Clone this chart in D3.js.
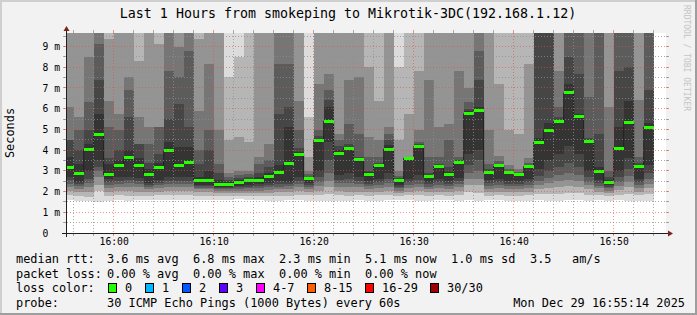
<!DOCTYPE html>
<html>
<head>
<meta charset="utf-8">
<script src="https://cdn.jsdelivr.net/npm/d3@7"></script>
<style>
  body { margin: 0; background: #f2f2f2; }
  svg { display: block; font-family: "DejaVu Sans Mono", monospace; }
  text { white-space: pre; }
</style>
</head>
<body>
<div id="chart"></div>
<script>
// median rtt per one-minute step (ms), first step ends 15:56
var medians = [3.15,2.86,4.04,4.73,2.80,3.28,3.64,3.28,2.84,3.14,
               3.99,3.24,3.38,2.51,2.55,2.32,2.32,2.45,2.55,2.55,
               2.74,2.93,3.35,3.80,2.63,4.47,5.40,3.86,4.10,3.56,
               2.84,3.28,4.05,2.53,3.61,4.17,2.72,3.21,2.84,3.41,
               5.75,5.91,2.93,3.27,2.93,2.80,3.21,4.39,4.95,5.37,
               6.76,5.61,4.41,2.97,2.45,4.10,5.35,3.22,5.11];

// smoke: upper and lower edge of each nested ping band (outer -> inner)
var hi1 = [12,12,12,12,12,12,12,12,12,12, 12,12,12,12,12,12,12,12,12,12,
           12,12,12,12,12,12,12,12,12,12, 12,12,12,12,12,12,12,12,12,12,
           12,12,12,12,12,12,12,12,12,12, 12,12,12,12,12,12,12,12,12];
var hi2 = [12,12,12,12,12,12,12,12,12,12, 12,12,12,12,12,12,7.52,8.48,12,12,
           12,12,12,12,5.59,12,12,12,12,12, 12,12,12,8.0,12,12,12,12,12,12,
           12,12,12,12,12,12,12,12,12,12, 12,12,12,12,12,12,12,12,12];
var hi3 = [12,12,12,12,9.36,12,12,8.32,12,9.12, 12,12,12,9.36,12,12,4.47,4.63,4.4,12,
           12,12,12,12,3.67,12,12,12,12,12, 8.0,6.39,12,4.47,5.75,7.84,12,12,12,12,
           12,12,12,7.2,4.95,4.79,8.16,12,12,12, 12,12,12,12,12,12,12,12,12];
var hi4 = [6.07,5.59,8.48,12,6.39,5.75,7.52,5.59,5.11,5.11, 11,8.96,12,5.9,8.16,4.95,2.9,3.0,3.0,3.67,
           4.31,12,12,6.39,3.0,7.2,7.68,4.79,7.36,7.52, 4.63,4.47,5.11,3.0,3.67,4.95,7.36,5.11,5.27,7.84,
           7.0,12,4.95,3.7,3.3,3.1,3.6,12,12,7.84, 12,12,12,12,6.07,12,12,6.4,12];
var hi5 = [4.47,4.95,6.31,9.12,5.11,4.95,6.88,4.31,4.31,5.11, 7.84,7.52,8.8,3.99,4.95,3.35,2.7,2.8,2.85,3.35,
           3.5,8.16,8.16,4.95,2.85,4.95,6.88,4.5,5.27,4.79, 3.67,3.67,4.79,2.75,3.65,4.4,3.67,3.67,4.47,3.67,
           6.3,8.8,3.35,3.45,3.1,2.95,3.4,12,12,6.1, 12,12,6.55,12,3.0,12,12,3.67,12];
var hi6 = [4.47,3.99,4.95,7.36,3.6,3.99,5.59,4.31,3.4,3.83, 5.5,6.23,5.11,3.35,3.99,2.9,2.55,2.65,2.7,2.9,
           3.2,5.75,6.07,4.1,2.72,4.7,6.4,4.2,4.3,3.67, 3.0,3.4,4.47,2.65,3.63,4.3,2.9,3.35,3.2,3.5,
           6.0,7.36,3.1,3.35,3.0,2.87,3.3,12,12,5.6, 8.5,7.68,4.6,4.79,2.7,7.84,8.0,3.4,6.88];
var hi7 = [3.67,3.35,4.3,5.75,3.35,3.5,3.99,3.6,3.1,3.4, 4.4,4.15,4.15,2.7,3.0,2.55,2.45,2.55,2.62,2.7,
           2.9,3.3,5.11,3.9,2.68,4.5,6.07,4.0,4.15,3.6, 2.95,3.35,4.25,2.58,3.62,4.22,2.8,3.28,2.95,3.45,
           5.9,6.1,3.0,3.3,2.96,2.83,3.25,4.6,5.3,5.45, 7.2,5.75,4.5,3.2,2.55,5.11,6.39,3.3,5.3];
var lo7 = [2.71,2.45,3.0,3.5,2.6,2.71,2.71,2.64,2.4,2.55, 2.71,2.71,2.71,2.31,2.31,2.23,2.2,2.25,2.3,2.35,
           2.4,2.5,2.45,2.71,2.4,3.0,4.4,2.8,2.9,2.7, 2.5,2.6,2.9,2.3,2.6,2.8,2.45,2.6,2.5,2.65,
           3.8,4.0,2.55,2.6,2.5,2.5,2.6,3.1,3.5,3.8, 4.2,3.8,3.0,2.55,2.3,3.0,3.6,2.6,3.3];
var lo6 = [2.55,2.35,2.6,3.2,2.45,2.5,2.55,2.5,2.3,2.4, 2.5,2.5,2.5,2.25,2.25,2.18,2.15,2.2,2.22,2.25,
           2.3,2.35,2.35,2.5,2.3,2.7,3.5,2.55,2.6,2.5, 2.35,2.45,2.6,2.22,2.45,2.55,2.35,2.45,2.38,2.5,
           3.3,3.5,2.4,2.45,2.38,2.38,2.45,2.75,3.0,3.2, 3.4,3.2,2.7,2.42,2.22,2.7,3.1,2.45,2.9];
var lo5 = [2.35,2.25,2.4,3.0,2.3,2.35,2.4,2.35,2.2,2.3, 2.35,2.35,2.35,2.18,2.18,2.12,2.1,2.12,2.15,2.15,
           2.2,2.22,2.25,2.35,2.2,2.45,2.9,2.4,2.4,2.35, 2.25,2.3,2.4,2.15,2.3,2.35,2.22,2.3,2.25,2.35,
           2.9,3.0,2.25,2.3,2.25,2.25,2.3,2.5,2.65,2.8, 2.9,2.8,2.45,2.28,2.15,2.45,2.75,2.3,2.6];
var lo4 = [2.2,2.12,2.22,2.7,2.15,2.2,2.2,2.2,2.1,2.15, 2.2,2.2,2.2,2.1,2.1,2.05,2.02,2.05,2.05,2.05,
           2.08,2.1,2.12,2.2,2.1,2.25,2.5,2.2,2.2,2.2, 2.12,2.15,2.2,2.05,2.15,2.2,2.1,2.15,2.12,2.2,
           2.6,2.6,2.12,2.15,2.12,2.12,2.15,2.3,2.4,2.5, 2.55,2.5,2.3,2.15,2.05,2.28,2.45,2.15,2.35];
var lo3 = [2.05,1.98,2.0,2.3,2.0,2.05,2.05,2.0,1.98,2.0, 2.05,2.05,2.05,1.98,1.98,1.95,1.93,1.95,1.95,1.95,
           1.95,1.97,2.0,2.05,1.98,2.05,2.2,2.02,2.0,2.0, 1.98,2.0,2.02,1.95,2.0,2.02,1.97,2.0,1.98,2.02,
           2.3,2.3,1.98,2.0,1.98,1.98,2.0,2.1,2.15,2.2, 2.25,2.2,2.1,2.0,1.95,2.08,2.2,2.0,2.15];
var lo2 = [1.83,1.8,1.75,2.05,1.8,1.85,1.8,1.8,1.8,1.82, 1.85,1.85,1.85,1.8,1.8,1.78,1.78,1.8,1.78,1.78,
           1.78,1.8,1.8,1.85,1.82,1.85,1.9,1.82,1.8,1.82, 1.8,1.82,1.82,1.8,1.82,1.82,1.8,1.82,1.8,1.82,
           2.0,1.95,1.8,1.82,1.8,1.8,1.82,1.88,1.9,1.9, 1.95,1.92,1.85,1.82,1.8,1.85,1.9,1.82,1.9];
var lo1 = [1.58,1.55,1.55,1.5,1.53,1.58,1.55,1.57,1.58,1.6, 1.6,1.6,1.6,1.58,1.6,1.58,1.6,1.62,1.6,1.6,
           1.56,1.56,1.6,1.58,1.55,1.55,1.55,1.55,1.52,1.57, 1.55,1.55,1.57,1.58,1.58,1.56,1.56,1.58,1.57,1.55,
           1.6,1.55,1.57,1.58,1.55,1.55,1.56,1.57,1.55,1.56, 1.58,1.57,1.55,1.57,1.55,1.57,1.55,1.55,1.56];

var yTicks = [0, 1, 2, 3, 4, 5, 6, 7, 8, 9];
var rttStats = ["3.6 ms avg", "6.8 ms max", "2.3 ms min", "5.1 ms now", "1.0 ms sd", "3.5", "am/s"];
var lossStats = ["0.00 % avg", "0.00 % max", "0.00 % min", "0.00 % now"];
var lossLabels = ["0", "1", "2", "3", "4-7", "8-15", "16-29", "30/30"];
var probeText = "30 ICMP Echo Pings (1000 Bytes) every 60s";
var stampText = "Mon Dec 29 16:55:14 2025";
var titleText = "Last 1 Hours from smokeping to Mikrotik-3DC(192.168.1.12)";

var lossColors = ["#26ff00", "#00b8ff", "#0059ff", "#5e00ff", "#ff00ff", "#ff5e00", "#ff0000", "#a10000"];
var bandGreys = [220, 182, 148, 118, 92, 70, 52];

var W = 697, H = 315;
var x0 = 66, x1 = 666, yTop = 33, yBot = 233;

var graphEnd = new Date(2025, 11, 29, 16, 55, 14);
var graphStart = d3.timeHour.offset(graphEnd, -1);
var firstStep = new Date(2025, 11, 29, 15, 56, 0);

var steps = medians.map(function(m, i) {
  var end = d3.timeMinute.offset(firstStep, i);
  var start = d3.timeMinute.offset(end, -1);
  if (start < graphStart) start = graphStart;
  return {start: start, end: end, median: m};
});

var x = d3.scaleTime().domain([graphStart, graphEnd]).range([x0, x1]);
var y = d3.scaleLinear().domain([0, 9.65]).range([yBot, yTop]);

var svg = d3.select("#chart").append("svg")
    .attr("width", W)
    .attr("height", H);

// background and 3d frame
svg.append("rect").attr("width", W).attr("height", H).attr("fill", "#f2f2f2");
svg.append("path").attr("d", "M0,1H696M1,0V314").attr("stroke", "#cfcfcf").attr("stroke-width", 2);
svg.append("path").attr("d", "M0,314H697M696,0V315").attr("stroke", "#9e9e9e").attr("stroke-width", 2);

svg.append("defs").append("clipPath").attr("id", "canvasClip")
  .append("rect").attr("x", x0).attr("y", yTop).attr("width", x1 - x0).attr("height", yBot - yTop);

svg.append("rect").attr("x", x0).attr("y", yTop).attr("width", x1 - x0).attr("height", yBot - yTop)
  .attr("fill", "#fff");

// smoke
var his = [hi1, hi2, hi3, hi4, hi5, hi6, hi7];
var los = [lo1, lo2, lo3, lo4, lo5, lo6, lo7];
var smoke = svg.append("g").attr("clip-path", "url(#canvasClip)").attr("shape-rendering", "crispEdges");
his.forEach(function(hi, k) {
  var lo = los[k];
  var g = bandGreys[k];
  smoke.append("g").selectAll("rect")
    .data(steps)
    .enter().append("rect")
      .attr("x", function(d) { return x(d.start); })
      .attr("width", function(d) { return x(d.end) - x(d.start); })
      .attr("y", function(d, i) { return y(hi[i]); })
      .attr("height", function(d, i) { return y(lo[i]) - y(hi[i]); })
      .attr("fill", d3.rgb(g, g, g));
});

// median: dark step line, then loss-coloured bar
var pts = [];
steps.forEach(function(d) {
  pts.push([x(d.start), y(d.median)]);
  pts.push([x(d.end), y(d.median)]);
});
svg.append("path")
  .attr("d", d3.line()(pts))
  .attr("fill", "none")
  .attr("stroke", "#202020")
  .attr("stroke-width", 1);

svg.append("g").attr("shape-rendering", "crispEdges").selectAll("rect")
  .data(steps)
  .enter().append("rect")
    .attr("x", function(d) { return x(d.start); })
    .attr("width", function(d) { return x(d.end) - x(d.start); })
    .attr("y", function(d) { return y(d.median) - 1.5; })
    .attr("height", 3)
    .attr("fill", lossColors[0]);

// grid (drawn over the graph, like rrdtool)
var gridCol = "rgba(143,143,143,0.75)", mgridCol = "rgba(222,79,79,0.6)";
var grid = svg.append("g").attr("shape-rendering", "crispEdges");

function px(v) { return Math.floor(v) + 0.5; }

function vLine(t, col) {
  var xx = px(x(t));
  grid.append("line").attr("x1", xx).attr("x2", xx).attr("y1", yBot + 2).attr("y2", yTop - 2)
    .attr("stroke", col).attr("stroke-dasharray", "1,2");
  grid.append("line").attr("x1", xx).attr("x2", xx).attr("y1", yBot).attr("y2", yBot + 3).attr("stroke", col);
  grid.append("line").attr("x1", xx).attr("x2", xx).attr("y1", yTop - 3).attr("y2", yTop).attr("stroke", col);
}
function hLine(v, col) {
  var yy = px(y(v));
  grid.append("line").attr("x1", x0 - 2).attr("x2", x1 + 2).attr("y1", yy).attr("y2", yy)
    .attr("stroke", col).attr("stroke-dasharray", "1,2");
  grid.append("line").attr("x1", x0 - 3).attr("x2", x0).attr("y1", yy).attr("y2", yy).attr("stroke", col);
  grid.append("line").attr("x1", x1).attr("x2", x1 + 3).attr("y1", yy).attr("y2", yy).attr("stroke", col);
}

d3.timeMinute.every(2).range(graphStart, graphEnd).forEach(function(t) {
  if (t.getMinutes() % 10 !== 0) vLine(t, gridCol);
});
d3.range(0.5, 9.65, 1).forEach(function(v) { hLine(v, gridCol); });
d3.timeMinute.every(10).range(graphStart, graphEnd).forEach(function(t) { vLine(t, mgridCol); });
yTicks.slice(1).forEach(function(v) { hLine(v, mgridCol); });

// axis lines and arrows
var axisCol = "#1f1f1f", arrowCol = "#801f1f";
svg.append("line").attr("x1", x0 - 4).attr("x2", x1 + 4).attr("y1", yBot + 0.5).attr("y2", yBot + 0.5)
  .attr("stroke", axisCol).attr("shape-rendering", "crispEdges");
svg.append("line").attr("x1", x0 + 0.5).attr("x2", x0 + 0.5).attr("y1", yBot + 4).attr("y2", yTop - 4)
  .attr("stroke", axisCol).attr("shape-rendering", "crispEdges");
svg.append("path").attr("d", "M" + (x1 + 2) + "," + (yBot - 2.5) + "L" + (x1 + 2) + "," + (yBot + 3.5) + "L" + (x1 + 7) + "," + (yBot + 0.5) + "Z")
  .attr("fill", arrowCol);
svg.append("path").attr("d", "M" + (x0 - 2.5) + "," + (yTop - 2) + "L" + (x0 + 3.5) + "," + (yTop - 2) + "L" + (x0 + 0.5) + "," + (yTop - 7) + "Z")
  .attr("fill", arrowCol);

// axis labels
var xAxis = d3.axisBottom(x)
  .ticks(d3.timeMinute.every(10))
  .tickFormat(d3.timeFormat("%H:%M"))
  .tickSize(0)
  .tickPadding(5);
var gx = svg.append("g").attr("transform", "translate(0," + yBot + ")").call(xAxis);
gx.select(".domain").remove();
gx.selectAll("text").attr("font-family", "DejaVu Sans Mono").attr("font-size", "9.7px").attr("fill", "#000");

var yAxis = d3.axisLeft(y)
  .tickValues(yTicks)
  .tickFormat(function(d) { return d === 0 ? "0" : d + " m"; })
  .tickSize(0);
var gy = svg.append("g").attr("transform", "translate(" + x0 + ",0)").call(yAxis);
gy.select(".domain").remove();
gy.selectAll("text").attr("font-family", "DejaVu Sans Mono").attr("font-size", "9.7px").attr("fill", "#000")
  .attr("text-anchor", "start").attr("x", -23.5);

// title, vertical label, watermark
svg.append("text").attr("x", 348).attr("y", 17.5).attr("text-anchor", "middle")
  .attr("font-size", "13.3px").text(titleText);
svg.append("text").attr("transform", "translate(14," + ((yTop + yBot) / 2) + ") rotate(-90)")
  .attr("text-anchor", "middle").attr("font-size", "11.9px").text("Seconds");
svg.append("text").attr("transform", "translate(684,5) rotate(90)")
  .attr("font-size", "8px").attr("fill", "#c4c4c4").text("RRDTOOL / TOBI OETIKER");

// legend
var rowY = [263, 277.5, 292, 306.5];
var fs = "11.9px";
function label(txt, xx, yy, anchor) {
  svg.append("text").attr("x", xx).attr("y", yy).attr("font-size", fs)
    .attr("text-anchor", anchor || "start").text(txt);
}
label("median rtt:", 16, rowY[0]);
var rttX = [107, 193, 279, 365, 451, 530, 572];
rttStats.forEach(function(s, i) { label(s, rttX[i], rowY[0]); });
label("packet loss:", 16, rowY[1]);
lossStats.forEach(function(s, i) { label(s, rttX[i], rowY[1]); });
label("loss color:", 16, rowY[2]);
var swX = [108, 145, 182, 219, 256, 307, 365, 430];
lossLabels.forEach(function(s, i) {
  svg.append("rect").attr("x", swX[i] + 0.5).attr("y", rowY[2] - 8.5).attr("width", 8).attr("height", 9)
    .attr("fill", lossColors[i]).attr("stroke", "#000").attr("stroke-width", 1);
  label(s, swX[i] + 17, rowY[2]);
});
label("probe:", 16, rowY[3]);
label(probeText, 107, rowY[3]);
label(stampText, 685, rowY[3], "end");
</script>
</body>
</html>
